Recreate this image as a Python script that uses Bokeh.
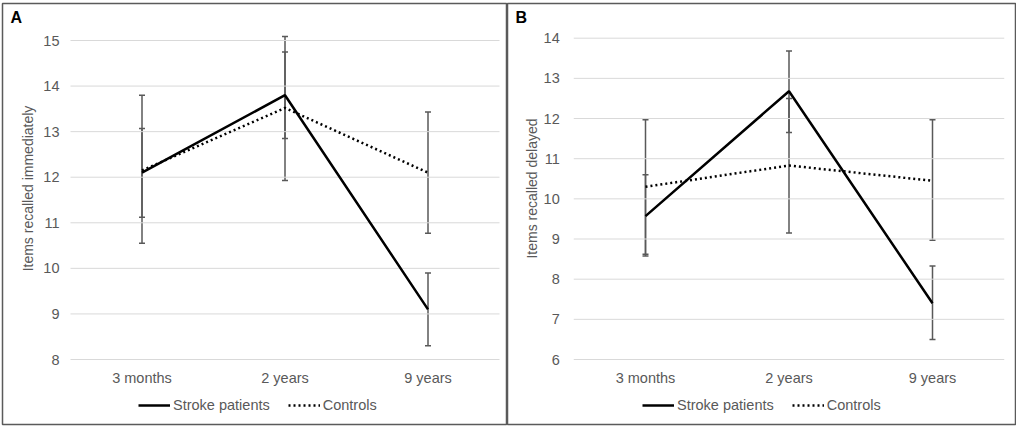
from bokeh.plotting import figure
from bokeh.models import (ColumnDataSource, Whisker, TeeHead, Legend, LegendItem, Label,
                          FixedTicker, Range1d)
from bokeh.layouts import row
from bokeh.embed import file_html
from bokeh.resources import INLINE

categories = ["3 months", "2 years", "9 years"]

# Panel A: items recalled immediately
a_stroke_mean = [12.1, 13.8, 9.1]
a_stroke_upper = [13.07, 14.75, 9.9]
a_stroke_lower = [11.12, 12.85, 8.3]
a_control_mean = [12.15, 13.52, 12.1]
a_control_upper = [13.8, 15.09, 13.43]
a_control_lower = [10.55, 11.93, 10.77]
a_ticks = [8, 9, 10, 11, 12, 13, 14, 15]

# Panel B: items recalled delayed
b_stroke_mean = [9.57, 12.68, 7.4]
b_stroke_upper = [10.6, 13.68, 8.33]
b_stroke_lower = [8.58, 11.65, 6.5]
b_control_mean = [10.3, 10.83, 10.45]
b_control_upper = [11.97, 12.5, 11.97]
b_control_lower = [8.62, 9.15, 8.97]
b_ticks = [6, 7, 8, 9, 10, 11, 12, 13, 14]

FONT = "Liberation Sans"
GRAY = "#595959"
SIZE = "14.5px"


def make_panel(letter, ylabel, ticks, s_mean, s_up, s_lo, c_mean, c_up, c_lo,
               W, H, frame, x0px, step, ytop_px, ybot_px, ylab_center_px,
               ystandoff, lab_standoff, leg_x):
    fl, ft, fr, fb = frame
    pos = list(range(len(categories)))

    def xd(px):
        return (px - x0px) / step

    def yd(px):
        return ticks[0] + (ybot_px - px) * (ticks[-1] - ticks[0]) / (ybot_px - ytop_px)

    p = figure(x_range=Range1d(xd(fl), xd(fr)), y_range=Range1d(yd(fb), yd(ft)),
               width=W, height=H, output_backend="svg", toolbar_location=None,
               min_border_left=fl, min_border_right=W - fr,
               min_border_top=ft, min_border_bottom=H - fb)
    p.outline_line_color = "#5a5a5a"
    p.outline_line_width = 1.5
    p.background_fill_color = "white"
    p.border_fill_color = "white"
    p.xgrid.grid_line_color = None
    p.ygrid.grid_line_color = None

    # horizontal gridlines over the category span
    gsrc = ColumnDataSource(dict(y=ticks))
    p.segment(x0=-0.5, x1=len(categories) - 0.5, y0="y", y1="y", source=gsrc,
              line_color="#d9d9d9", line_width=1)

    for ax in (p.xaxis[0], p.yaxis[0]):
        ax.axis_line_color = None
        ax.major_tick_line_color = None
        ax.minor_tick_line_color = None
        ax.major_tick_out = 0
        ax.major_tick_in = 0
        ax.minor_tick_out = 0
        ax.minor_tick_in = 0
        ax.major_label_text_font = FONT
        ax.major_label_text_font_size = SIZE
        ax.major_label_text_color = GRAY

    p.xaxis.fixed_location = ticks[0]
    p.xaxis.ticker = FixedTicker(ticks=pos)
    p.xaxis.major_label_overrides = {i: c for i, c in zip(pos, categories)}
    p.xaxis.major_label_standoff = 10

    p.yaxis.fixed_location = -0.5
    p.yaxis.ticker = FixedTicker(ticks=ticks)
    p.yaxis.bounds = (ticks[0], 2 * yd(ylab_center_px) - ticks[0])
    p.yaxis.major_label_standoff = ystandoff
    p.yaxis.axis_label = ylabel
    p.yaxis.axis_label_text_font = FONT
    p.yaxis.axis_label_text_font_size = "14px"
    p.yaxis.axis_label_text_font_style = "normal"
    p.yaxis.axis_label_text_color = GRAY
    p.yaxis.axis_label_standoff = lab_standoff

    src_s = ColumnDataSource(dict(x=pos, y=s_mean, upper=s_up, lower=s_lo))
    src_c = ColumnDataSource(dict(x=pos, y=c_mean, upper=c_up, lower=c_lo))

    for src in (src_c, src_s):
        w = Whisker(source=src, base="x", upper="upper", lower="lower",
                    line_color=GRAY, line_width=1.5,
                    upper_head=TeeHead(size=6, line_color=GRAY, line_width=1.5),
                    lower_head=TeeHead(size=6, line_color=GRAY, line_width=1.5))
        p.add_layout(w)

    r_c = p.line("x", "y", source=src_c, line_color="black", line_width=2.5,
                 line_dash="2 3")
    r_s = p.line("x", "y", source=src_s, line_color="black", line_width=2.5)

    legend = Legend(items=[LegendItem(label="Stroke patients", renderers=[r_s]),
                           LegendItem(label="Controls", renderers=[r_c])],
                    orientation="horizontal", location=(leg_x, 10),
                    glyph_width=32, glyph_height=18, label_standoff=3, spacing=18,
                    label_text_font=FONT, label_text_font_size=SIZE,
                    label_text_color=GRAY, border_line_color=None,
                    background_fill_alpha=0, margin=0, padding=6)
    p.add_layout(legend, "center")

    p.add_layout(Label(x=xd(fl + 8), y=yd(ft + 5), text=letter, text_font=FONT,
                       text_font_size="16px", text_font_style="bold",
                       text_color="black", text_baseline="top", text_align="left"))
    return p


pa = make_panel("A", "Items recalled immediately", a_ticks,
                a_stroke_mean, a_stroke_upper, a_stroke_lower,
                a_control_mean, a_control_upper, a_control_lower,
                W=507, H=426, frame=(2, 3, 507, 424), x0px=141.5, step=143,
                ytop_px=40, ybot_px=359, ylab_center_px=188,
                ystandoff=11, lab_standoff=4, leg_x=136)
pb = make_panel("B", "Items recalled delayed", b_ticks,
                b_stroke_mean, b_stroke_upper, b_stroke_lower,
                b_control_mean, b_control_upper, b_control_lower,
                W=509, H=426, frame=(0, 3, 508, 424), x0px=138, step=143.5,
                ytop_px=37.7, ybot_px=359, ylab_center_px=188,
                ystandoff=14, lab_standoff=0, leg_x=135)

layout = row(pa, pb)
open("out.html", "w").write(file_html(layout, INLINE))
